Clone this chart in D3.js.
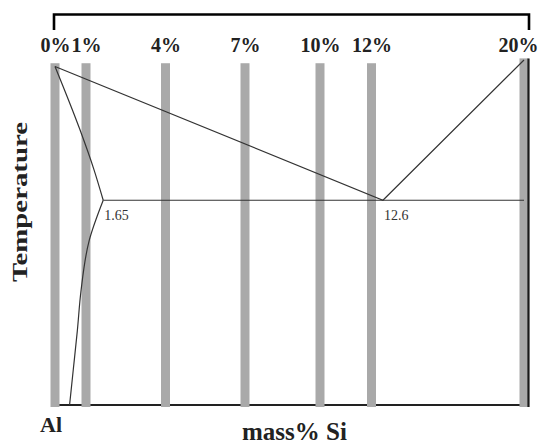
<!DOCTYPE html>
<html><head><meta charset="utf-8">
<script src="https://cdn.jsdelivr.net/npm/d3@7"></script>
<style>body{margin:0;background:#fff}svg{display:block}</style>
</head><body><svg id="c" width="539" height="444"></svg>
<script>
// ---- data ----
const compositions = [0, 1, 4, 7, 10, 12, 20];
const tickLabels = ["0%", "1%", "4%", "7%", "10%", "12%", "20%"];
const barTopTemps = [662, 662, 662, 662, 662, 662, 665];
const liquidus = [[0, 660], [12.6, 577], [20, 664]];
const solidus = [[0, 660], [0.8, 621], [1.3, 596], [1.65, 577]];
const solvus = [[1.65, 577], [1.12, 552], [0.84, 521], [0.72, 496], [0.59, 472], [0.47, 450]];
const eutectic = [[1.65, 577], [20, 577]];
const pointLabels = [{c: 1.65, t: 577, text: "1.65"}, {c: 12.6, t: 577, text: "12.6"}];
const tempDomain = [450, 664];

// ---- scales ----
const svg = d3.select("#c");
const x = d3.scaleLinear().domain(compositions).range([55, 86, 165.5, 245, 320, 371.5, 524]);
const y = d3.scaleLinear().domain(tempDomain).range([405, 60]);
const serif = "'Liberation Serif', 'Times New Roman', serif";

// top bracket
svg.append("path").attr("d", `M${x(0)-1},30V14.5H${x(20)+5}V30`)
  .attr("fill", "none").attr("stroke", "#000").attr("stroke-width", 2.6);

// bottom line
svg.append("line").attr("x1", x(0)).attr("x2", x(20) + 4).attr("y1", 405).attr("y2", 405)
  .attr("stroke", "#222").attr("stroke-width", 1.8);

// bars
svg.selectAll("rect.bar").data(compositions).join("rect").attr("class", "bar")
  .attr("x", d => x(d) - 4.5).attr("width", 9)
  .attr("y", (d, i) => y(barTopTemps[i])).attr("height", (d, i) => 407 - y(barTopTemps[i]))
  .attr("fill", "#a9a9a9");

// right dark edge
svg.append("line").attr("x1", x(20) + 4.5).attr("x2", x(20) + 4.5)
  .attr("y1", y(665)).attr("y2", 407).attr("stroke", "#1a1a1a").attr("stroke-width", 2.2);

// phase lines
const line = d3.line().x(d => x(d[0])).y(d => y(d[1]));
const lineS = d3.line().x(d => x(d[0])).y(d => y(d[1])).curve(d3.curveMonotoneY);
[[liquidus, line], [eutectic, line], [solidus, lineS], [solvus, lineS]].forEach(([d, g]) => {
  svg.append("path").attr("d", g(d)).attr("fill", "none")
    .attr("stroke", "#333").attr("stroke-width", 1.2);
});

// point labels
svg.selectAll("text.pl").data(pointLabels).join("text").attr("class", "pl")
  .attr("x", d => x(d.c) + 1).attr("y", d => y(d.t) + 20)
  .attr("font-family", serif).attr("font-size", 14).attr("fill", "#333")
  .text(d => d.text);

// top tick labels via axis
const ax = svg.append("g").attr("transform", "translate(0,52)")
  .call(d3.axisTop(x).tickValues(compositions).tickSize(0).tickPadding(0)
    .tickFormat((d, i) => tickLabels[i]));
ax.select(".domain").remove();
ax.selectAll("text").attr("font-family", serif).attr("font-size", 20)
  .attr("font-weight", "bold").attr("fill", "#222").attr("dy", 0);
ax.selectAll(".tick").each(function(d) {
  const t = d3.select(this).select("text");
  const w = t.node().getComputedTextLength();
  const cx = x(d);
  const maxC = 538 - w / 2;
  if (cx > maxC) t.attr("x", maxC - cx);
});

// axis titles
svg.append("text").attr("x", 40).attr("y", 432)
  .attr("font-family", serif).attr("font-size", 22).attr("font-weight", "bold").attr("fill", "#222")
  .text("Al");
svg.append("text").attr("x", 242).attr("y", 440)
  .attr("font-family", serif).attr("font-size", 25).attr("font-weight", "bold").attr("fill", "#222")
  .text("mass% Si");
svg.append("text").attr("transform", "translate(27,202) rotate(-90)")
  .attr("text-anchor", "middle")
  .attr("font-family", serif).attr("font-size", 21).attr("font-weight", "bold").attr("fill", "#222")
  .attr("textLength", 160).attr("lengthAdjust", "spacingAndGlyphs")
  .text("Temperature");
</script></body></html>
